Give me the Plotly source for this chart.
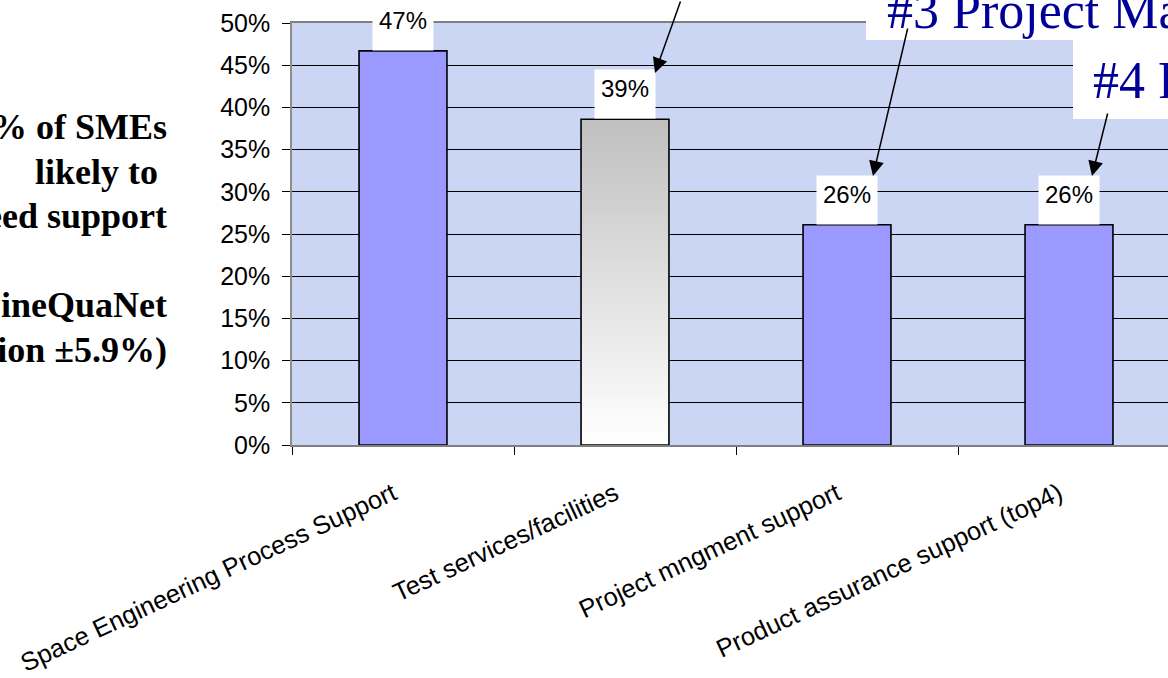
import numpy as np
import plotly.graph_objects as go

# ---- data -------------------------------------------------------------
categories = [
    "Space Engineering Process Support",
    "Test services/facilities",
    "Project mngment support",
    "Product assurance support (top4)",
]
shares = [0.467, 0.386, 0.261, 0.261]
bar_fill = ["#9999FF", "rgba(0,0,0,0)", "#9999FF", "#9999FF"]
gradient_index = 1          # this bar is filled with a grey-to-white gradient
y_tick_values = [0, 0.05, 0.10, 0.15, 0.20, 0.25, 0.30, 0.35, 0.40, 0.45, 0.50]

note_lines = ["% of SMEs", "likely to\u00a0", "need support", "(SineQuaNet", "precision \u00b15.9%)"]
note_baselines = [139, 183.5, 228, 317, 361.5]

# ---- geometry of the page ----------------------------------------------
W, H = 1168, 678
PL, PR, PT, PB = 292, 1168, 23, 445
CAT_PX = 222                       # pixels per category
BAR_WIDTH = 0.396                  # fraction of a category occupied by a bar
LABEL_SHIFT = -0.045               # slanted category labels sit a little left of centre
x_range = [-0.5, -0.5 + (PR - PL) / CAT_PX]


def fx(px):
    return (px - PL) / (PR - PL)


def fy(py):
    return (PB - py) / (PB - PT)


x_pos = list(range(len(categories)))

fig = go.Figure()

# grey-to-white gradient for the highlighted bar
g_val = shares[gradient_index]
g_edges = np.linspace(0, g_val, 121)
g_mid = (g_edges[:-1] + g_edges[1:]) / 2
fig.add_trace(go.Heatmap(
    x=[gradient_index - BAR_WIDTH / 2, gradient_index + BAR_WIDTH / 2],
    y=g_edges,
    z=[[m / g_val] for m in g_mid],
    colorscale=[[0, "#ffffff"], [1, "#c0c0c0"]],
    showscale=False, hoverinfo="skip",
))

fig.add_trace(go.Bar(
    x=x_pos, y=shares,
    width=BAR_WIDTH,
    marker=dict(color=bar_fill, line=dict(color="#000000", width=1.6)),
    hoverinfo="skip",
))

annotations = []

# value labels in white boxes sitting on the bars
for i, v in enumerate(shares):
    annotations.append(dict(
        x=i, y=v, xref="x", yref="y",
        text=f"{v:.0%}", showarrow=False,
        xanchor="center", yanchor="bottom", valign="top",
        width=50, height=38, bgcolor="#ffffff", borderpad=5,
        font=dict(family="Liberation Sans, Arial", size=24, color="#000000"),
    ))

# note on the left
for line, base in zip(note_lines, note_baselines):
    annotations.append(dict(
        x=fx(169), y=fy(base - 12), xref="paper", yref="paper",
        text=f"<b>{line}</b>", showarrow=False, xanchor="right", yanchor="middle",
        align="right",
        font=dict(family="Liberation Serif, Times New Roman", size=36, color="#000000"),
    ))

# ranking call-outs
callout_font = dict(family="Liberation Serif, Times New Roman", size=52, color="#000099")
annotations.append(dict(
    x=fx(885), y=fy(27 - 17), xref="paper", yref="paper",
    text="#3 Project Management", showarrow=False, xanchor="left", yanchor="middle",
    font=callout_font,
))
annotations.append(dict(
    x=fx(1091), y=fy(97 - 17), xref="paper", yref="paper",
    text="#4 Product Assurance", showarrow=False, xanchor="left", yanchor="middle",
    font=callout_font,
))

# arrows pointing at the value labels
for tip, tail in [((655, 73), (681, -2)), ((873, 176), (908, 27)), ((1092, 176), (1108, 112))]:
    annotations.append(dict(
        x=fx(tip[0]), y=fy(tip[1]), xref="paper", yref="paper",
        ax=tail[0] - tip[0], ay=tail[1] - tip[1],
        text="", showarrow=True, arrowhead=2, arrowsize=2, arrowwidth=1.5,
        arrowcolor="#000000",
    ))

shapes = [
    dict(type="rect", xref="paper", yref="paper", layer="above",
         x0=fx(866), x1=fx(1180), y0=fy(40), y1=fy(-10),
         fillcolor="#ffffff", line=dict(width=0)),
    dict(type="rect", xref="paper", yref="paper", layer="above",
         x0=fx(1073), x1=fx(1180), y0=fy(119), y1=fy(39),
         fillcolor="#ffffff", line=dict(width=0)),
]

fig.update_layout(
    width=W, height=H,
    margin=dict(l=PL, r=W - PR, t=PT, b=H - PB, pad=0, autoexpand=False),
    paper_bgcolor="#ffffff",
    plot_bgcolor="#cad6f4",
    showlegend=False,
    bargap=1 - BAR_WIDTH,
    annotations=annotations,
    shapes=shapes,
    font=dict(family="Liberation Sans, Arial", color="#000000"),
)

fig.update_xaxes(
    range=x_range, showgrid=False, zeroline=False, automargin=False,
    tickmode="array", tickvals=[p + LABEL_SHIFT for p in x_pos], ticktext=categories,
    ticks="", tickangle=-25, ticklabelstandoff=22,
    tickfont=dict(family="Liberation Sans, Arial", size=25.5, color="#000000"),
    minor=dict(tickmode="array", tickvals=[i - 0.5 for i in range(len(categories) + 1)],
               ticks="outside", ticklen=8, tickwidth=1, tickcolor="#000000", showgrid=False),
    showline=True, linecolor="#7f7f7f", linewidth=2, mirror=True,
)

fig.update_yaxes(
    range=[0, 0.5], tickmode="array", tickvals=y_tick_values, tickformat=".0%",
    showgrid=True, gridcolor="#000000", gridwidth=1, zeroline=False, automargin=False,
    ticks="outside", ticklen=8, tickwidth=1, tickcolor="#000000",
    ticklabelstandoff=7,
    tickfont=dict(family="Liberation Sans, Arial", size=25, color="#000000"),
    showline=True, linecolor="#8c8c8c", linewidth=1.5, mirror=True,
)

fig.write_html("out.html", config={"displayModeBar": False})
